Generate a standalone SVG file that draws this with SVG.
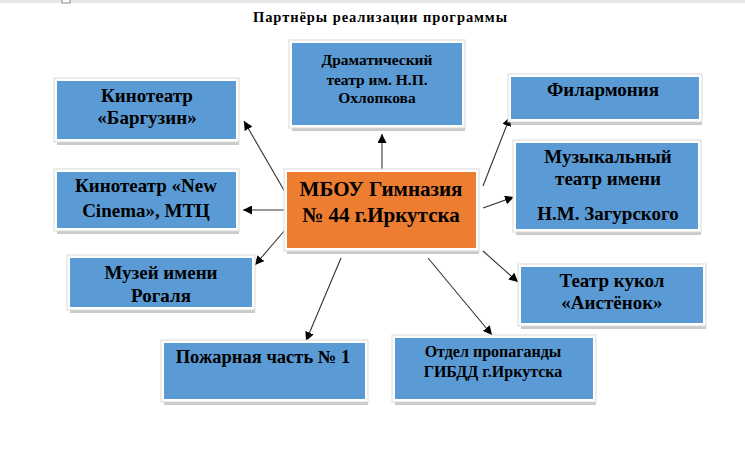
<svg xmlns="http://www.w3.org/2000/svg" width="745" height="457" viewBox="0 0 745 457">
<defs>
<marker id="ah" viewBox="0 0 10 10" refX="10" refY="5" markerWidth="9" markerHeight="9" markerUnits="userSpaceOnUse" orient="auto">
<path d="M0,0 L10,5 L0,10 z" fill="#000"/>
</marker>
<style>
.sh{fill:#9e9e9e;opacity:0.55}
.fr{fill:#ffffff;stroke:#d9d9d9;stroke-width:1}
.bl{fill:#5b9bd5}
.or{fill:#ed7d31}
text{font-family:"Liberation Serif","Times New Roman",serif;font-weight:bold;fill:#000;text-anchor:middle}
.t{font-size:19px}
.s{font-size:15.5px}
.c{font-size:21px}
.conn line{stroke:#333;stroke-width:1.1;marker-end:url(#ah)}
</style>
</defs>
<rect x="0" y="0" width="745" height="457" fill="#fff"/>
<rect x="0" y="0" width="745" height="3" fill="#e6e6e6"/>
<rect x="62" y="-1" width="8" height="4" fill="#fff" stroke="#888" stroke-width="1"/>
<text x="380" y="22" style="font-size:14.5px" textLength="254" lengthAdjust="spacing">Партнёры реализации программы</text>

<g class="conn">
<line x1="285" y1="192" x2="244" y2="121"/>
<line x1="285" y1="210" x2="243" y2="210"/>
<line x1="285" y1="230" x2="255" y2="265"/>
<line x1="382" y1="170" x2="382" y2="134"/>
<line x1="483" y1="186" x2="510" y2="117"/>
<line x1="483" y1="208" x2="514" y2="197"/>
<line x1="483" y1="251" x2="518" y2="282"/>
<line x1="341" y1="258" x2="306" y2="341"/>
<line x1="428" y1="258" x2="492" y2="335"/>
</g>

<g id="n_bargusin">
<rect class="sh" x="57" y="81" width="182" height="64"/>
<rect class="fr" x="54" y="78" width="185" height="64"/>
<rect class="bl" x="57" y="81" width="179" height="58"/>
<text class="t" x="147" y="102">Кинотеатр</text>
<text class="t" x="147" y="124">«Баргузин»</text>
</g>

<g id="n_newcinema">
<rect class="sh" x="57" y="172" width="182" height="62"/>
<rect class="fr" x="54" y="169" width="185" height="62"/>
<rect class="bl" x="57" y="172" width="179" height="56"/>
<text class="t" x="146" y="192">Кинотеатр «New</text>
<text class="t" x="146" y="217">Cinema», МТЦ</text>
</g>

<g id="n_muzey">
<rect class="sh" x="70" y="258" width="185" height="55"/>
<rect class="fr" x="67" y="255" width="188" height="55"/>
<rect class="bl" x="70" y="258" width="182" height="49"/>
<text class="t" x="161" y="279">Музей имени</text>
<text class="t" x="161" y="302">Рогаля</text>
</g>

<g id="n_drama">
<rect class="sh" x="292" y="43" width="173" height="88"/>
<rect class="fr" x="289" y="40" width="176" height="88"/>
<rect class="bl" x="292" y="43" width="170" height="82"/>
<text class="s" x="377" y="65">Драматический</text>
<text class="s" x="377" y="85">театр им. Н.П.</text>
<text class="s" x="377" y="103">Охлопкова</text>
</g>

<g id="n_center">
<rect class="sh" x="287" y="172" width="192" height="82"/>
<rect class="fr" x="284" y="169" width="195" height="82"/>
<rect class="or" x="287" y="172" width="189" height="76"/>
<text class="c" x="381" y="196">МБОУ Гимназия</text>
<text class="c" x="381" y="222">№ 44 г.Иркутска</text>
</g>

<g id="n_filarm">
<rect class="sh" x="511" y="77" width="191" height="48"/>
<rect class="fr" x="508" y="74" width="194" height="48"/>
<rect class="bl" x="511" y="77" width="188" height="42"/>
<text class="t" x="603" y="96">Филармония</text>
</g>

<g id="n_muz">
<rect class="sh" x="516" y="143" width="185" height="92"/>
<rect class="fr" x="513" y="140" width="188" height="92"/>
<rect class="bl" x="516" y="143" width="182" height="86"/>
<text class="t" x="608" y="163">Музыкальный</text>
<text class="t" x="608" y="185">театр имени</text>
<text class="t" x="608" y="220">Н.М. Загурского</text>
</g>

<g id="n_kukol">
<rect class="sh" x="521" y="267" width="185" height="62"/>
<rect class="fr" x="518" y="264" width="188" height="62"/>
<rect class="bl" x="521" y="267" width="182" height="56"/>
<text class="t" x="612" y="287">Театр кукол</text>
<text class="t" x="612" y="309">«Аистёнок»</text>
</g>

<g id="n_pozhar">
<rect class="sh" x="164" y="343" width="204" height="62"/>
<rect class="fr" x="161" y="340" width="207" height="62"/>
<rect class="bl" x="164" y="343" width="201" height="56"/>
<text class="t" x="263" y="363" style="font-size:18.5px">Пожарная часть № 1</text>
</g>

<g id="n_gibdd">
<rect class="sh" x="395" y="338" width="201" height="67"/>
<rect class="fr" x="392" y="335" width="204" height="67"/>
<rect class="bl" x="395" y="338" width="198" height="61"/>
<text class="s" x="493" y="357" style="font-size:16px">Отдел пропаганды</text>
<text class="s" x="493" y="377" style="font-size:16px">ГИБДД г.Иркутска</text>
</g>
</svg>
